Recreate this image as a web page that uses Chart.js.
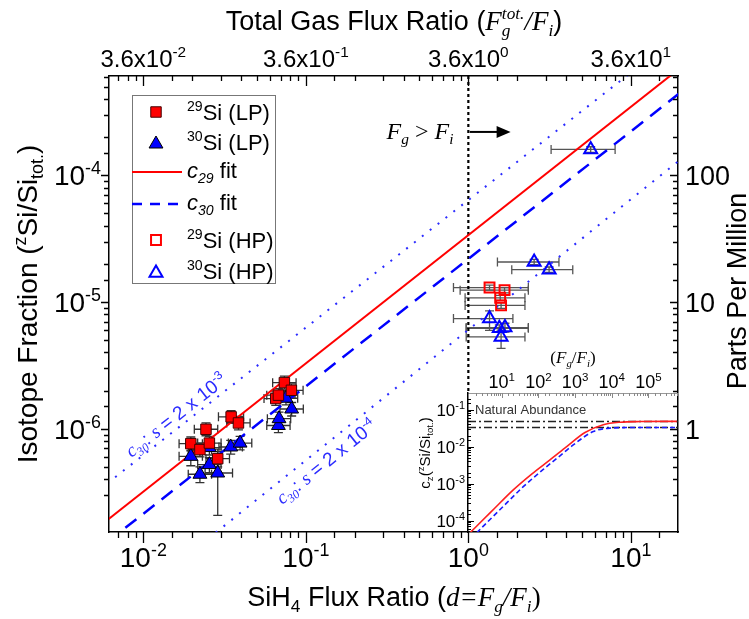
<!DOCTYPE html>
<html><head><meta charset="utf-8">
<script src="https://cdn.jsdelivr.net/npm/chart.js@4.4.1/dist/chart.umd.min.js"></script>
<style>
html,body{margin:0;padding:0;background:#fff;}
#wrap{position:relative;width:749px;height:619px;overflow:hidden;}
#main{position:absolute;left:0;top:0;}
#inset{position:absolute;left:400px;top:340px;}
</style></head><body>
<div id="wrap">
<canvas id="main" width="749" height="619"></canvas>
<canvas id="inset" width="290" height="195"></canvas>
</div>
<script>
// ================= DATA =================
// axis ranges
const xRange = [0.00615, 19.5];
const yRange = [1.53e-7, 6.08e-4];
const xDecades = [0.01, 0.1, 1, 10];
const xDecadeExp = ['-2', '-1', '0', '1'];
const topPrefix = '3.6x10';
const yDecades = [1e-6, 1e-5, 1e-4];
const yDecadeExp = ['-6', '-5', '-4'];
const ppmLabels = ['1', '10', '100'];

// 29Si (LP)
const lp29X = [0.0196,0.0223,0.0243,0.0255,0.0287,0.0347,0.0385,0.0653,0.0678,0.0738,0.0815];
const lp29Y = [7.62e-7,6.84e-7,9.9e-7,7.7e-7,5.8e-7,1.24e-6,1.11e-6,1.73e-6,1.84e-6,2.31e-6,2.01e-6];
const lp29XLo = [0.0166,0.0189,0.0206,0.0216,0.0243,0.0290,0.0326,0.0553,0.0575,0.0625,0.0691];
const lp29XHi = [0.0231,0.0263,0.0287,0.0301,0.0339,0.0414,0.0454,0.0771,0.0800,0.0871,0.0962];
const lp29YLo = [6.7e-7,6.0e-7,8.8e-7,6.8e-7,5.0e-7,1.10e-6,9.8e-7,1.53e-6,1.63e-6,2.05e-6,1.78e-6];
const lp29YHi = [8.6e-7,7.7e-7,1.11e-6,8.7e-7,6.6e-7,1.39e-6,1.25e-6,1.95e-6,2.07e-6,2.6e-6,2.26e-6];
// 30Si (LP)
const lp30X = [0.0196,0.0223,0.0255,0.0287,0.0345,0.0394,0.0678,0.0684,0.0818,0.0255,0.0755];
const lp30Y = [6.05e-7,4.37e-7,5.21e-7,4.47e-7,7.17e-7,7.7e-7,1.06e-6,1.20e-6,1.43e-6,7.1e-7,1.74e-6];
const lp30XLo = [0.0166,0.0189,0.0216,0.0240,0.0292,0.0334,0.0575,0.0580,0.0693,0.0216,0.0640];
const lp30XHi = [0.0231,0.0263,0.0301,0.0354,0.0407,0.0465,0.0800,0.0807,0.0965,0.0301,0.0891];
const lp30YLo = [5.1e-7,3.75e-7,4.5e-7,2.07e-7,6.3e-7,6.8e-7,9.3e-7,1.06e-6,1.26e-6,6.2e-7,1.54e-6];
const lp30YHi = [7.1e-7,5.0e-7,5.9e-7,6.9e-7,8.1e-7,8.7e-7,1.19e-6,1.35e-6,1.61e-6,8.0e-7,1.96e-6];
// 29Si (HP)
const hp29X = [1.35,1.67,1.57,1.59];
const hp29Y = [1.30e-5,1.24e-5,1.08e-5,9.4e-6];
const hp29XLo = [0.81,0.89,0.955,0.955];
const hp29XHi = [2.34,2.34,2.23,2.23];
const hp29YLo = [1.24e-5,1.18e-5,1.03e-5,8.9e-6];
const hp29YHi = [1.36e-5,1.30e-5,1.13e-5,9.9e-6];
// 30Si (HP)
const hp30X = [2.54,3.14,1.35,1.68,1.59,1.55,5.66];
const hp30Y = [2.07e-5,1.80e-5,7.4e-6,6.28e-6,5.3e-6,6.2e-6,1.60e-4];
const hp30XLo = [1.51,1.85,0.81,0.97,0.97,0.97,3.23];
const hp30XHi = [3.61,4.39,1.88,2.34,2.23,2.34,8.0];
const hp30YLo = [1.97e-5,1.71e-5,5.98e-6,5.8e-6,4.3e-6,5.8e-6,1.52e-4];
const hp30YHi = [2.17e-5,1.89e-5,8.5e-6,6.8e-6,6.0e-6,6.6e-6,1.68e-4];
// fit lines (end points)
const fit29X = [0.006, 20];   const fit29Y = [1.9e-7, 7.0e-4];
const fit30X = [0.006, 20];   const fit30Y = [1.275e-7, 4.46e-4];
const sHighX = [0.006, 20];   const sHighY = [3.7e-7, 1.3e-3];
const sLowX  = [0.025, 20];   const sLowY  = [1.35e-7, 1.32e-4];
// vertical Fg = Fi marker and arrow
const vLineX = [1, 1];        const vLineY = [6.08e-4, 1.9e-6];
const arrowX = [1.02, 1.82];  const arrowY = 2.2e-4;
const labelHighAt = 0.0175;   const labelLowAt = 0.118;

// inset data
const insetXRange = [1.21, 6.37e5];
const insetYRange = [4.94e-5, 0.284];
const insetXDecades = [10, 100, 1e3, 1e4, 1e5];
const insetXExp = ['1','2','3','4','5'];
const insetYDecades = [1e-1, 1e-2, 1e-3, 1e-4];
const insetYExp = ['-1','-2','-3','-4'];
const c29X = [1.37, 5.2, 20.7, 67, 207, 590, 1862, 5865, 16700, 6e4, 5.9e5];
const c29Y = [4.7e-5, 1.75e-4, 6.8e-4, 1.85e-3, 4.4e-3, 1.01e-2, 2.43e-2, 3.92e-2, 4.6e-2, 4.8e-2, 4.85e-2];
const c30X = [2.08, 9.5, 38.8, 168, 388, 893, 3133, 8930, 3e4, 5.9e5];
const c30Y = [4.7e-5, 2.1e-4, 8.3e-4, 2.9e-3, 5.7e-3, 1.12e-2, 2.58e-2, 3.19e-2, 3.3e-2, 3.31e-2];
const natAbund = [0.0482, 0.0331];

// ================= HELPERS =================
const SANS = '"Liberation Sans", Arial, Helvetica, sans-serif';
const SERIF = '"Liberation Serif", "Times New Roman", serif';
const pts = (xs, ys) => xs.map((x, i) => ({x, y: ys[i]}));

function segFont(s, size) {
  const sz = (s.sup || s.sub) ? size * 0.64 : size;
  return (s.i ? 'italic ' : '') + sz.toFixed(1) + 'px ' + (s.serif ? SERIF : SANS);
}
function layoutRich(ctx, segs, size) {
  let x = 0, keepW = null; const items = [];
  for (const s of segs) {
    ctx.font = segFont(s, size);
    const w = ctx.measureText(s.t).width;
    const dy = s.sup ? -size * 0.4 : (s.sub ? size * 0.22 : 0);
    items.push({s, x, dy, font: ctx.font});
    if (s.keep) { keepW = w; }
    else { x += (keepW != null ? Math.max(w, keepW) : w); keepW = null; }
  }
  return {items, width: x};
}
function drawRich(ctx, segs, x, y, size, align, color) {
  ctx.save();
  const L = layoutRich(ctx, segs, size);
  const x0 = align === 'center' ? x - L.width / 2 : (align === 'right' ? x - L.width : x);
  ctx.textAlign = 'left'; ctx.textBaseline = 'alphabetic';
  for (const it of L.items) {
    ctx.font = it.font; ctx.fillStyle = it.s.c || color || '#000';
    ctx.fillText(it.s.t, x0 + it.x, y + it.dy);
  }
  ctx.restore();
}
function drawRichRot(ctx, segs, cx, cy, angle, baseOff, size, color) {
  ctx.save(); ctx.translate(cx, cy); ctx.rotate(angle);
  drawRich(ctx, segs, 0, baseOff, size, 'center', color);
  ctx.restore();
}
function isDecade(v) { const l = Math.log10(v); return Math.abs(l - Math.round(l)) < 1e-6; }
function drawScaleTicks(ctx, scale, base, sign, majorLen, minorLen, color, lw) {
  ctx.save(); ctx.strokeStyle = color; ctx.lineWidth = lw; ctx.beginPath();
  for (const t of scale.ticks) {
    const v = t.value;
    if (v <= scale.min * 1.000001 || v >= scale.max * 0.999999) continue;
    const p = Math.round(scale.getPixelForValue(v)) + 0.5;
    const len = isDecade(v) ? majorLen : minorLen;
    if (scale.isHorizontal()) { ctx.moveTo(p, base); ctx.lineTo(p, base + sign * len); }
    else { ctx.moveTo(base, p); ctx.lineTo(base + sign * len, p); }
  }
  ctx.stroke(); ctx.restore();
}

// ================= MAIN CHART =================
const RED = '#ff0000', BLUE = '#0000ff', DOTBLUE = '#2b2bff';

const errorBarPlugin = {
  id: 'errorBars',
  beforeDatasetsDraw(chart) {
    const ctx = chart.ctx, xs = chart.scales.x, ys = chart.scales.y, a = chart.chartArea;
    ctx.save();
    ctx.beginPath(); ctx.rect(a.left, a.top, a.right - a.left, a.bottom - a.top); ctx.clip();
    chart.data.datasets.forEach(ds => {
      if (!ds.err) return;
      const e = ds.err;
      ctx.strokeStyle = e.color; ctx.lineWidth = 1.3;
      ds.data.forEach((p, i) => {
        const px = xs.getPixelForValue(p.x), py = ys.getPixelForValue(p.y);
        const xl = xs.getPixelForValue(e.xLo[i]), xh = xs.getPixelForValue(e.xHi[i]);
        const yl = ys.getPixelForValue(e.yLo[i]), yh = ys.getPixelForValue(e.yHi[i]);
        const c = 4.5;
        ctx.beginPath();
        ctx.moveTo(xl, py); ctx.lineTo(xh, py);
        ctx.moveTo(xl, py - c); ctx.lineTo(xl, py + c);
        ctx.moveTo(xh, py - c); ctx.lineTo(xh, py + c);
        ctx.moveTo(px, yl); ctx.lineTo(px, yh);
        ctx.moveTo(px - c, yl); ctx.lineTo(px + c, yl);
        ctx.moveTo(px - c, yh); ctx.lineTo(px + c, yh);
        ctx.stroke();
      });
    });
    ctx.restore();
  }
};

const mainDeco = {
  id: 'mainDeco',
  afterDraw(chart) {
    const ctx = chart.ctx, a = chart.chartArea;
    const xs = chart.scales.x, ys = chart.scales.y, x2 = chart.scales.x2, y2 = chart.scales.y2;
    // tick marks
    drawScaleTicks(ctx, xs, a.bottom, 1, 11, 6, '#000', 1.3);
    drawScaleTicks(ctx, x2, a.top, 1, 10, 5, '#000', 1.3);
    drawScaleTicks(ctx, ys, a.left, -1, 8, 5, '#000', 1.3);
    drawScaleTicks(ctx, y2, a.right, -1, 8, 5, '#000', 1.3);
    // tick labels
    xDecades.forEach((v, i) => {
      const p = xs.getPixelForValue(v);
      drawRich(ctx, [{t: '10'}, {t: xDecadeExp[i], sup: 1}], p, 567, 28, 'center');
      drawRich(ctx, [{t: topPrefix}, {t: xDecadeExp[i], sup: 1}], p, 67, 24, 'center');
    });
    yDecades.forEach((v, i) => {
      const p = ys.getPixelForValue(v);
      drawRich(ctx, [{t: '10'}, {t: yDecadeExp[i], sup: 1}], 101, p + 10, 28, 'right');
      drawRich(ctx, [{t: ppmLabels[i]}], 685, y2.getPixelForValue(v) + 10, 27, 'left');
    });
    // axis titles
    drawRich(ctx, [{t: 'Total Gas Flux Ratio ('}, {t: 'F', i: 1, serif: 1}, {t: 'g', sub: 1, i: 1, serif: 1, keep: 1},
      {t: 'tot.', sup: 1, i: 1, serif: 1}, {t: '/F', i: 1, serif: 1}, {t: 'i', sub: 1, i: 1, serif: 1}, {t: ')'}],
      394, 30, 27, 'center');
    drawRich(ctx, [{t: 'SiH'}, {t: '4', sub: 1}, {t: ' Flux Ratio ('}, {t: 'd=F', i: 1, serif: 1}, {t: 'g', sub: 1, i: 1, serif: 1},
      {t: '/F', i: 1, serif: 1}, {t: 'i', sub: 1, i: 1, serif: 1}, {t: ')', serif: 1}],
      394, 606, 27, 'center');
    drawRichRot(ctx, [{t: 'Isotope Fraction ('}, {t: 'z', sup: 1}, {t: 'Si/Si'}, {t: 'tot.', sub: 1}, {t: ')'}],
      27, 304, -Math.PI / 2, 10, 28);
    drawRichRot(ctx, [{t: 'Parts Per Million'}], 736, 291, -Math.PI / 2, 10, 27);
    // Fg > Fi annotation + arrow
    drawRich(ctx, [{t: 'F', i: 1, serif: 1}, {t: 'g', sub: 1, i: 1, serif: 1}, {t: ' > ', serif: 1},
      {t: 'F', i: 1, serif: 1}, {t: 'i', sub: 1, i: 1, serif: 1}], 420, 139, 24, 'center');
    const ax0 = xs.getPixelForValue(arrowX[0]), ax1 = xs.getPixelForValue(arrowX[1]), ay = ys.getPixelForValue(arrowY);
    ctx.save(); ctx.strokeStyle = '#000'; ctx.fillStyle = '#000'; ctx.lineWidth = 2;
    ctx.beginPath(); ctx.moveTo(ax0, ay); ctx.lineTo(ax1 - 10, ay); ctx.stroke();
    ctx.beginPath(); ctx.moveTo(ax1, ay); ctx.lineTo(ax1 - 14, ay - 6); ctx.lineTo(ax1 - 14, ay + 6); ctx.closePath(); ctx.fill();
    ctx.restore();
    // rotated labels along s lines
    const ang = (lx, ly) => Math.atan2(ys.getPixelForValue(ly[1]) - ys.getPixelForValue(ly[0]),
      xs.getPixelForValue(lx[1]) - xs.getPixelForValue(lx[0]));
    const onLine = (lx, ly, d) => {
      const t = (Math.log10(d) - Math.log10(lx[0])) / (Math.log10(lx[1]) - Math.log10(lx[0]));
      const yv = Math.pow(10, Math.log10(ly[0]) + t * (Math.log10(ly[1]) - Math.log10(ly[0])));
      return [xs.getPixelForValue(d), ys.getPixelForValue(yv)];
    };
    const segsFor = e => [{t: 'c', i: 1, serif: 1}, {t: '30', sub: 1, i: 1, serif: 1}, {t: ': '}, {t: 's', i: 1, serif: 1},
      {t: ' = 2 x 10'}, {t: e, sup: 1}];
    let p = onLine(sHighX, sHighY, labelHighAt);
    drawRichRot(ctx, segsFor('-3'), p[0], p[1], ang(sHighX, sHighY), -5, 19, DOTBLUE);
    p = onLine(sLowX, sLowY, labelLowAt);
    drawRichRot(ctx, segsFor('-4'), p[0], p[1], ang(sLowX, sLowY), 20, 19, DOTBLUE);
    // legend
    const lx = 132, ly = 95, lw = 143, lh = 188;
    ctx.save();
    ctx.fillStyle = '#fff'; ctx.fillRect(lx, ly, lw, lh);
    ctx.strokeStyle = '#777'; ctx.lineWidth = 1; ctx.strokeRect(lx + 0.5, ly + 0.5, lw, lh);
    const rows = [112, 142, 172, 204, 240, 271];
    const H = Chart.helpers;
    const sym = (y, style, r, fill, stroke, bw) => {
      ctx.save(); ctx.fillStyle = fill; ctx.strokeStyle = stroke; ctx.lineWidth = bw;
      H.drawPoint(ctx, {pointStyle: style, radius: r, rotation: 0, borderWidth: bw}, 156, y);
      ctx.restore();
    };
    sym(rows[0], 'rect', 7.4, RED, '#400', 1);
    sym(rows[1] + 2, 'triangle', 8, BLUE, '#000', 1);
    ctx.strokeStyle = RED; ctx.lineWidth = 2; ctx.setLineDash([]);
    ctx.beginPath(); ctx.moveTo(132, rows[2]); ctx.lineTo(182, rows[2]); ctx.stroke();
    ctx.strokeStyle = BLUE; ctx.lineWidth = 2.5; ctx.setLineDash([10, 8]);
    ctx.beginPath(); ctx.moveTo(132, rows[3]); ctx.lineTo(182, rows[3]); ctx.stroke();
    ctx.setLineDash([]);
    sym(rows[4], 'rect', 7, 'rgba(0,0,0,0)', RED, 2);
    sym(rows[5] + 2, 'triangle', 7.5, 'rgba(0,0,0,0)', BLUE, 2);
    const tx = 187, fs = 22;
    drawRich(ctx, [{t: '29', sup: 1}, {t: 'Si (LP)'}], tx, rows[0] + 8, fs);
    drawRich(ctx, [{t: '30', sup: 1}, {t: 'Si (LP)'}], tx, rows[1] + 8, fs);
    drawRich(ctx, [{t: 'c', i: 1}, {t: '29', sub: 1, i: 1}, {t: ' fit'}], tx, rows[2] + 6, fs);
    drawRich(ctx, [{t: 'c', i: 1}, {t: '30', sub: 1, i: 1}, {t: ' fit'}], tx, rows[3] + 6, fs);
    drawRich(ctx, [{t: '29', sup: 1}, {t: 'Si (HP)'}], tx, rows[4] + 8, fs);
    drawRich(ctx, [{t: '30', sup: 1}, {t: 'Si (HP)'}], tx, rows[5] + 8, fs);
    ctx.restore();
  }
};

const logAxis = (pos, range, size, horiz) => ({
  type: 'logarithmic', position: pos, min: range[0], max: range[1],
  ticks: {display: false}, grid: {display: false},
  border: {display: true, color: '#000', width: 1.5},
  afterFit(s) { if (horiz) s.height = size; else s.width = size; }
});

new Chart(document.getElementById('main'), {
  type: 'scatter',
  data: {
    datasets: [
      {label: '29Si (LP)', data: pts(lp29X, lp29Y), order: 0, pointStyle: 'rect', pointRadius: 7.4,
        backgroundColor: RED, borderColor: '#400', borderWidth: 1,
        err: {xLo: lp29XLo, xHi: lp29XHi, yLo: lp29YLo, yHi: lp29YHi, color: '#333'}},
      {label: '30Si (LP)', data: pts(lp30X, lp30Y), order: 1, pointStyle: 'triangle', pointRadius: 8,
        backgroundColor: BLUE, borderColor: '#000', borderWidth: 1,
        err: {xLo: lp30XLo, xHi: lp30XHi, yLo: lp30YLo, yHi: lp30YHi, color: '#333'}},
      {label: '29Si (HP)', data: pts(hp29X, hp29Y), order: 2, pointStyle: 'rect', pointRadius: 7,
        backgroundColor: 'rgba(0,0,0,0)', borderColor: RED, borderWidth: 2,
        err: {xLo: hp29XLo, xHi: hp29XHi, yLo: hp29YLo, yHi: hp29YHi, color: '#555'}},
      {label: '30Si (HP)', data: pts(hp30X, hp30Y), order: 3, pointStyle: 'triangle', pointRadius: 7.5,
        backgroundColor: 'rgba(0,0,0,0)', borderColor: BLUE, borderWidth: 2,
        err: {xLo: hp30XLo, xHi: hp30XHi, yLo: hp30YLo, yHi: hp30YHi, color: '#555'}},
      {label: 'c29 fit', data: pts(fit29X, fit29Y), order: 5, showLine: true, pointRadius: 0,
        borderColor: RED, borderWidth: 2},
      {label: 'c30 fit', data: pts(fit30X, fit30Y), order: 6, showLine: true, pointRadius: 0,
        borderColor: BLUE, borderWidth: 2.5, borderDash: [14, 9]},
      {label: 's = 2e-3', data: pts(sHighX, sHighY), order: 7, showLine: true, pointRadius: 0,
        borderColor: DOTBLUE, borderWidth: 2, borderDash: [2, 8]},
      {label: 's = 2e-4', data: pts(sLowX, sLowY), order: 8, showLine: true, pointRadius: 0,
        borderColor: DOTBLUE, borderWidth: 2, borderDash: [2, 8]},
      {label: 'Fg = Fi', data: pts(vLineX, vLineY), order: 9, showLine: true, pointRadius: 0,
        borderColor: '#000', borderWidth: 2.2, borderDash: [3, 3]}
    ]
  },
  options: {
    responsive: false, animation: false, devicePixelRatio: 1,
    layout: {padding: 0},
    plugins: {legend: {display: false}, tooltip: {enabled: false}},
    scales: {
      x: logAxis('bottom', xRange, 87, true),
      x2: logAxis('top', xRange, 76, true),
      y: logAxis('left', yRange, 109, false),
      y2: logAxis('right', yRange, 71, false)
    }
  },
  plugins: [errorBarPlugin, mainDeco]
});

// ================= INSET =================
const insetDeco = {
  id: 'insetDeco',
  afterDraw(chart) {
    const ctx = chart.ctx, a = chart.chartArea, xs = chart.scales.x, ys = chart.scales.y;
    drawScaleTicks(ctx, xs, a.top, 1, 5, 3, '#888', 1);
    drawScaleTicks(ctx, ys, a.left, 1, 6, 3, '#000', 1.2);
    insetXDecades.forEach((v, i) => {
      drawRich(ctx, [{t: '10'}, {t: insetXExp[i], sup: 1}], xs.getPixelForValue(v), 48, 18, 'center');
    });
    insetYDecades.forEach((v, i) => {
      drawRich(ctx, [{t: '10'}, {t: insetYExp[i], sup: 1}], 65, ys.getPixelForValue(v) + 6, 17, 'right');
    });
    drawRich(ctx, [{t: '(', serif: 1}, {t: 'F', i: 1, serif: 1}, {t: 'g', sub: 1, i: 1, serif: 1}, {t: '/', serif: 1},
      {t: 'F', i: 1, serif: 1}, {t: 'i', sub: 1, i: 1, serif: 1}, {t: ')', serif: 1}], 173, 23, 17, 'center');
    drawRichRot(ctx, [{t: 'c'}, {t: 'z', sub: 1}, {t: '('}, {t: 'z', sup: 1}, {t: 'Si/Si'}, {t: 'tot.', sub: 1}, {t: ')'}],
      25, 113, -Math.PI / 2, 5, 15);
    drawRich(ctx, [{t: 'Natural Abundance'}], 75, 74, 13, 'left', '#333');
  }
};

new Chart(document.getElementById('inset'), {
  type: 'scatter',
  data: {
    datasets: [
      {label: 'c29', data: pts(c29X, c29Y), showLine: true, pointRadius: 0, borderColor: '#ff2020', borderWidth: 1.6,
        cubicInterpolationMode: 'monotone', order: 0},
      {label: 'c30', data: pts(c30X, c30Y), showLine: true, pointRadius: 0, borderColor: '#1a1aff', borderWidth: 1.6,
        borderDash: [5, 3], cubicInterpolationMode: 'monotone', order: 1},
      {label: 'nat29', data: pts(insetXRange, [natAbund[0], natAbund[0]]), showLine: true, pointRadius: 0,
        borderColor: '#222', borderWidth: 1.4, borderDash: [8, 3, 2, 3], order: 2},
      {label: 'nat30', data: pts(insetXRange, [natAbund[1], natAbund[1]]), showLine: true, pointRadius: 0,
        borderColor: '#222', borderWidth: 1.4, borderDash: [8, 3, 2, 3], order: 3}
    ]
  },
  options: {
    responsive: false, animation: false, devicePixelRatio: 1,
    layout: {padding: {right: 12, bottom: 3}},
    plugins: {legend: {display: false}, tooltip: {enabled: false}},
    scales: {
      x: {type: 'logarithmic', position: 'top', min: insetXRange[0], max: insetXRange[1],
        ticks: {display: false}, grid: {display: false}, border: {display: true, color: '#999', width: 1},
        afterFit(s) { s.height = 53; }},
      y: {type: 'logarithmic', position: 'left', min: insetYRange[0], max: insetYRange[1],
        ticks: {display: false}, grid: {display: false}, border: {display: true, color: '#000', width: 1.5},
        afterFit(s) { s.width = 68; }}
    }
  },
  plugins: [insetDeco]
});
</script>
</body></html>
